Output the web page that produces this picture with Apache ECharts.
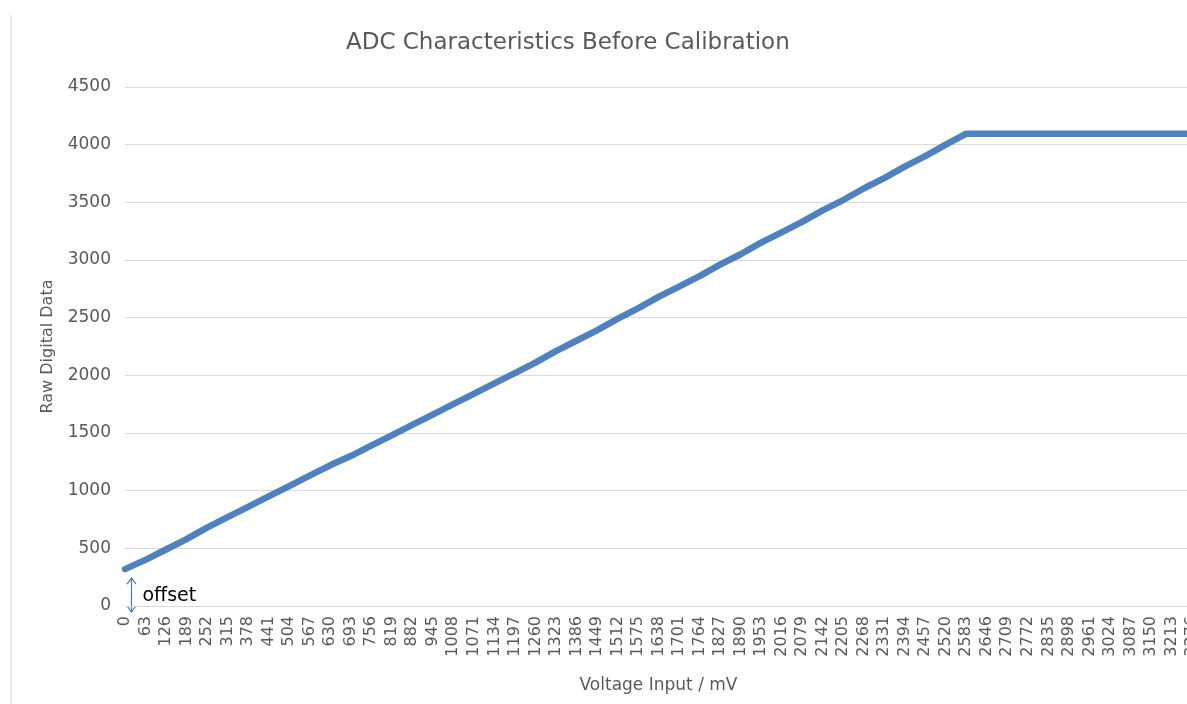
<!DOCTYPE html>
<html>
<head>
<meta charset="utf-8">
<script src="https://cdn.jsdelivr.net/npm/echarts@6/dist/echarts.min.js"></script>
<style>
html,body{margin:0;padding:0;background:#fff;}
#chart{width:1187px;height:704px;}
</style>
</head>
<body>
<div id="chart"></div>
<script>
// Voltage input categories (mV)
var voltages = [0,63,126,189,252,315,378,441,504,567,630,693,756,819,882,945,1008,1071,1134,1197,1260,1323,1386,1449,1512,1575,1638,1701,1764,1827,1890,1953,2016,2079,2142,2205,2268,2331,2394,2457,2520,2583,2646,2709,2772,2835,2898,2961,3024,3087,3150,3213,3276];
// Raw digital data
var rawData = [320,400,490,580,680,770,860,950,1040,1130,1220,1300,1390,1480,1570,1660,1750,1840,1930,2020,2110,2210,2300,2390,2490,2580,2680,2770,2860,2960,3050,3150,3240,3330,3430,3520,3620,3710,3810,3900,4000,4095,4095,4095,4095,4095,4095,4095,4095,4095,4095,4095,4095];
var yTicks = [0,500,1000,1500,2000,2500,3000,3500,4000,4500];
var offsetLabel = 'offset';

var FONT = 'DejaVu Sans';
var chart = echarts.init(document.getElementById('chart'), null, {renderer:'canvas'});
var option = {
  backgroundColor: '#ffffff',
  animation: false,
  title: {
    text: 'ADC Characteristics Before Calibration',
    left: 341, top: 27,
    textStyle: {fontFamily: FONT, fontSize: 23, fontWeight: 'normal', color: '#595959'}
  },
  grid: {left: 125, top: 87, bottom: 98, right: -5, containLabel: false, outerBoundsMode: 'none'},
  xAxis: {
    type: 'category',
    data: voltages.map(String),
    boundaryGap: false,
    name: 'Voltage Input / mV',
    nameLocation: 'middle',
    nameGap: 71,
    nameTextStyle: {fontFamily: FONT, fontSize: 17, color: '#595959'},
    axisLine: {lineStyle: {color: '#d9d9d9', width: 1}},
    axisTick: {show: false},
    axisLabel: {interval: 0, rotate: 90, margin: 10, fontFamily: FONT, fontSize: 16, color: '#595959'},
    splitLine: {show: false}
  },
  yAxis: {
    type: 'value',
    min: yTicks[0], max: yTicks[yTicks.length-1], interval: 500,
    name: 'Raw Digital Data',
    nameLocation: 'middle',
    nameGap: 69,
    nameTextStyle: {fontFamily: FONT, fontSize: 16, color: '#595959'},
    axisLine: {show: false},
    axisTick: {show: false},
    axisLabel: {margin: 14, fontFamily: FONT, fontSize: 17, color: '#595959', formatter: function (v) { return String(v); }},
    splitLine: {lineStyle: {color: '#d9d9d9', width: 1}}
  },
  series: [{
    type: 'line',
    data: rawData,
    showSymbol: false,
    symbol: 'none',
    lineStyle: {color: '#4f81bd', width: 6.5, join: 'round', cap: 'round'},
    z: 3
  }]
};
chart.setOption(option);

// Offset annotation: arrow from y=0 to the first data value, placed via axis scales
var p0 = chart.convertToPixel({gridIndex: 0}, [0, 0]);
var p1 = chart.convertToPixel({gridIndex: 0}, [0, rawData[0]]);
var ax = p0[0] + 6.5;
var yTop = p1[1] + 9, yBot = p0[1] + 6;
var arrowColor = '#4a7ebb';
chart.setOption({
  graphic: [
    {type: 'line', shape: {x1: 11, y1: 15, x2: 11, y2: 704}, style: {stroke: '#d9d9d9', lineWidth: 1}},
    {type: 'line', shape: {x1: ax, y1: yTop, x2: ax, y2: yBot}, style: {stroke: arrowColor, lineWidth: 1.2}},
    {type: 'polyline', shape: {points: [[ax-4.5, yTop+6], [ax, yTop], [ax+4.5, yTop+6]]}, style: {stroke: arrowColor, lineWidth: 1.2, fill: null}},
    {type: 'polyline', shape: {points: [[ax-4.5, yBot-6], [ax, yBot], [ax+4.5, yBot-6]]}, style: {stroke: arrowColor, lineWidth: 1.2, fill: null}},
    {type: 'text', x: ax + 11, y: (yTop + yBot)/2 + 1, style: {text: offsetLabel, fontFamily: FONT, fontSize: 19, fill: '#000000', verticalAlign: 'middle'}}
  ]
});
</script>
</body>
</html>
